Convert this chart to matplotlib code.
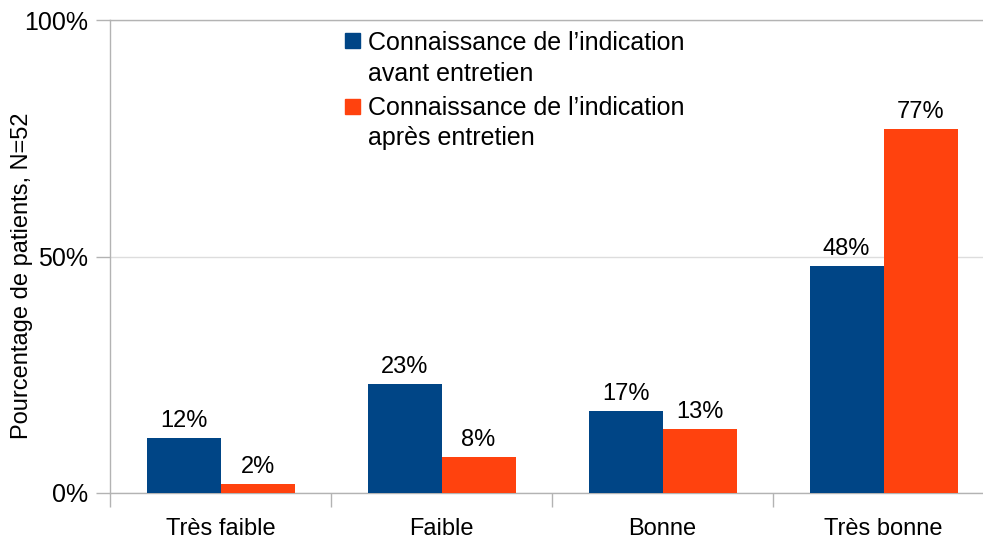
import matplotlib
matplotlib.use("Agg")
import matplotlib.pyplot as plt
from matplotlib.patches import Rectangle
import numpy as np

categories = ["Très faible", "Faible", "Bonne", "Très bonne"]
avant = [11.54, 23.08, 17.31, 48.08]
apres = [1.92, 7.69, 13.46, 76.92]
series_labels = [["Connaissance de l\u2019indication", "avant entretien"],
                 ["Connaissance de l\u2019indication", "après entretien"]]
yticks = [0, 50, 100]
ytick_labels = ["0%", "50%", "100%"]
ylabel = "Pourcentage de patients, N=52"

BLUE = "#004586"
ORANGE = "#FF420E"
AXIS = "#b3b3b3"
GRID = "#dddddd"

plt.rcParams['font.family'] = ['Liberation Sans', 'DejaVu Sans']

W, H = 983, 540
fig = plt.figure(figsize=(W / 100, H / 100), dpi=100)

def fx(px):
    return px / W

def fy(py):
    return 1 - py / H

left, right, top, bottom = 110, 994, 20, 493
ax = fig.add_axes([fx(left), fy(bottom), fx(right) - fx(left), fy(top) - fy(bottom)])

x = np.arange(len(categories))
bw = 74 / 221
ax.bar(x - bw / 2, avant, bw, color=BLUE, zorder=3)
ax.bar(x + bw / 2, apres, bw, color=ORANGE, zorder=3)

for xi, v in zip(x - bw / 2, avant):
    ax.annotate("%.0f%%" % v, (xi, v), xytext=(0, 11), textcoords="offset pixels",
                ha="center", va="baseline", fontsize=17, color="#000000")
for xi, v in zip(x + bw / 2, apres):
    ax.annotate("%.0f%%" % v, (xi, v), xytext=(0, 11), textcoords="offset pixels",
                ha="center", va="baseline", fontsize=17, color="#000000")

ax.set_xlim(-0.5, len(categories) - 0.5)
ax.set_ylim(0, 100)

ax.set_yticks(yticks)
ax.set_yticklabels(ytick_labels, fontsize=18)
ax.tick_params(axis='y', length=10, width=1, color=AXIS, pad=6)
ax.yaxis.grid(True, color=GRID, linewidth=1, zorder=0)
ax.set_axisbelow(True)

ax.set_xticks(x)
ax.set_xticklabels(categories, fontsize=17)
ax.tick_params(axis='x', which='major', length=0, pad=18)
ax.set_xticks(np.arange(-0.5, len(categories), 1.0), minor=True)
ax.tick_params(axis='x', which='minor', length=10, width=1, color=AXIS)

ax.spines["right"].set_visible(False)
for s in ["left", "bottom", "top"]:
    ax.spines[s].set_color(AXIS)
    ax.spines[s].set_linewidth(1)

fig.text(fx(22), fy(276), ylabel, rotation=90, ha="center", va="center", fontsize=17)

# legend
colors = [BLUE, ORANGE]
square_tops = [33, 99]
baselines = [[50, 81], [115, 145]]
for c, st, bl, lines in zip(colors, square_tops, baselines, series_labels):
    fig.patches.append(Rectangle((fx(345), fy(st + 15)), fx(15), 15 / H,
                                 transform=fig.transFigure, color=c))
    for b, t in zip(bl, lines):
        fig.text(fx(368), fy(b), t, ha="left", va="baseline", fontsize=18)

fig.savefig("out.png", dpi=100)
